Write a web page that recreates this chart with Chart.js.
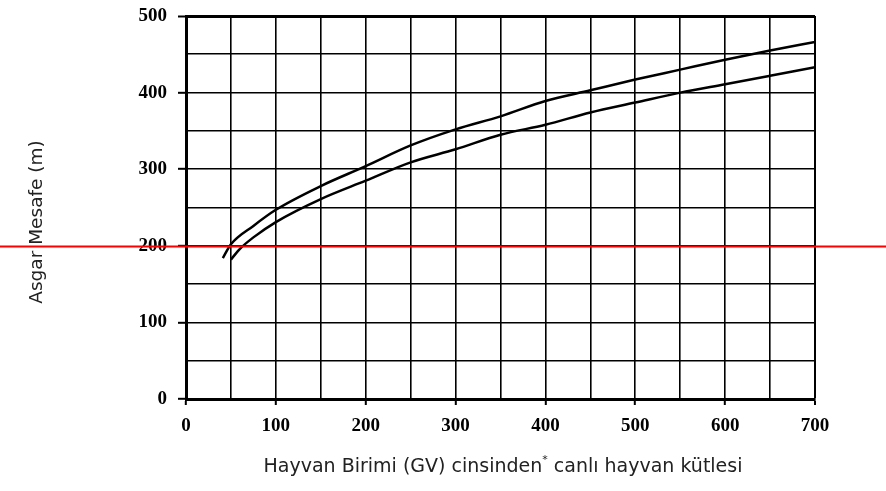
<!DOCTYPE html>
<html>
<head>
<meta charset="utf-8">
<title>Asgar Mesafe</title>
<script src="https://cdn.jsdelivr.net/npm/chart.js@4.4.0/dist/chart.umd.min.js"></script>
<style>
	html, body { margin: 0; padding: 0; background: #fff; }
	#chart { display: block; }
</style>
</head>
<body>
<canvas id="chart" width="886" height="491"></canvas>
<script>
//
// Data
//

var upperX = [41, 50, 75, 100, 150, 200, 250, 300, 350, 400, 450, 500, 550, 600, 650, 700];
var upperY = [184, 202, 226, 247, 278, 304, 331, 352, 369, 389, 403, 417, 430, 443, 455, 466];

var lowerX = [50, 60, 75, 100, 150, 200, 250, 300, 350, 400, 450, 500, 550, 600, 650, 700];
var lowerY = [182, 196, 211, 231, 261, 285, 309, 326, 345, 358, 374, 387, 400, 411, 422, 433];

var xTicks = [0, 100, 200, 300, 400, 500, 600, 700];
var yTicks = [0, 100, 200, 300, 400, 500];

var redLineValue = 199;

var xTitle = ['Hayvan Birimi (GV) cinsinden', '*', ' canlı hayvan kütlesi'];
var yTitle = 'Asgar Mesafe (m)';


//
// Helpers
//

function toPoints(xs, ys) {
	return xs.map(function(x, i) { return { x: x, y: ys[i] }; });
}

function isLabelled(list, value) {
	return list.indexOf(value) !== -1;
}

// Titles and the red marker line
var extrasPlugin = {
	id: 'extras',
	afterDraw: function(chart) {
		var ctx = chart.ctx;
		var yScale = chart.scales.y;

		ctx.save();
		ctx.fillStyle = '#222';
		ctx.textBaseline = 'middle';

		// x title, with raised asterisk
		ctx.font = '19px "DejaVu Sans"';
		var w0 = ctx.measureText(xTitle[0]).width;
		var w2 = ctx.measureText(xTitle[2]).width;
		ctx.font = '11px "DejaVu Sans"';
		var w1 = ctx.measureText(xTitle[1]).width;
		var start = 503 - (w0 + w1 + w2) / 2;
		ctx.textAlign = 'left';
		ctx.font = '19px "DejaVu Sans"';
		ctx.fillText(xTitle[0], start, 467);
		ctx.font = '11px "DejaVu Sans"';
		ctx.fillText(xTitle[1], start + w0, 460);
		ctx.font = '19px "DejaVu Sans"';
		ctx.fillText(xTitle[2], start + w0 + w1, 467);

		// y title
		ctx.translate(37, 222);
		ctx.rotate(-Math.PI / 2);
		ctx.textAlign = 'center';
		ctx.font = '18.5px "DejaVu Sans"';
		ctx.fillText(yTitle, 0, 0);
		ctx.restore();

		// red line across the whole picture
		var py = yScale.getPixelForValue(redLineValue);
		ctx.save();
		ctx.strokeStyle = '#ff0000';
		ctx.lineWidth = 2;
		ctx.beginPath();
		ctx.moveTo(0, py);
		ctx.lineTo(chart.width, py);
		ctx.stroke();
		ctx.restore();
	}
};


//
// Chart
//

var tickFont = { family: '"Liberation Serif", "Times New Roman", serif', size: 19, weight: 'bold' };

var chart = new Chart(document.getElementById('chart'), {
	type: 'line',
	data: {
		datasets: [{
			label: 'upper',
			data: toPoints(upperX, upperY),
			borderColor: '#000',
			borderWidth: 2.5,
			pointRadius: 0,
			fill: false,
			cubicInterpolationMode: 'monotone'
		}, {
			label: 'lower',
			data: toPoints(lowerX, lowerY),
			borderColor: '#000',
			borderWidth: 2.5,
			pointRadius: 0,
			fill: false,
			cubicInterpolationMode: 'monotone'
		}]
	},
	options: {
		responsive: false,
		animation: false,
		layout: {
			padding: { left: 0, right: 71, top: 16, bottom: 0 }
		},
		plugins: {
			legend: { display: false },
			tooltip: { enabled: false }
		},
		scales: {
			x: {
				type: 'linear',
				min: 0,
				max: 700,
				afterFit: function(scale) {
					scale.height = 92;
					scale.paddingLeft = 0;
					scale.paddingRight = 0;
				},
				ticks: {
					stepSize: 50,
					color: '#000',
					font: tickFont,
					padding: 10,
					maxRotation: 0,
					autoSkip: false,
					callback: function(v) { return isLabelled(xTicks, v) ? String(v) : ''; }
				},
				grid: {
					color: '#000',
					lineWidth: function(c) { return c.tick && c.tick.value === 700 ? 2 : 1.6; },
					tickLength: 6,
					tickColor: function(c) { return c.tick && isLabelled(xTicks, c.tick.value) ? '#000' : 'rgba(0,0,0,0)'; },
					tickWidth: 2
				},
				border: { color: '#000', width: 3 }
			},
			y: {
				min: 0,
				max: 500,
				afterFit: function(scale) {
					scale.width = 186;
					scale.paddingTop = 0;
					scale.paddingBottom = 0;
				},
				ticks: {
					stepSize: 50,
					color: '#000',
					font: tickFont,
					padding: 11,
					autoSkip: false,
					callback: function(v) { return isLabelled(yTicks, v) ? String(v) : ''; }
				},
				grid: {
					color: '#000',
					lineWidth: function(c) { return c.tick && c.tick.value === 500 ? 3 : 1.6; },
					tickLength: 8,
					tickColor: function(c) { return c.tick && isLabelled(yTicks, c.tick.value) ? '#000' : 'rgba(0,0,0,0)'; },
					tickWidth: 2
				},
				border: { color: '#000', width: 3 }
			}
		}
	},
	plugins: [extrasPlugin]
});
</script>
</body>
</html>
